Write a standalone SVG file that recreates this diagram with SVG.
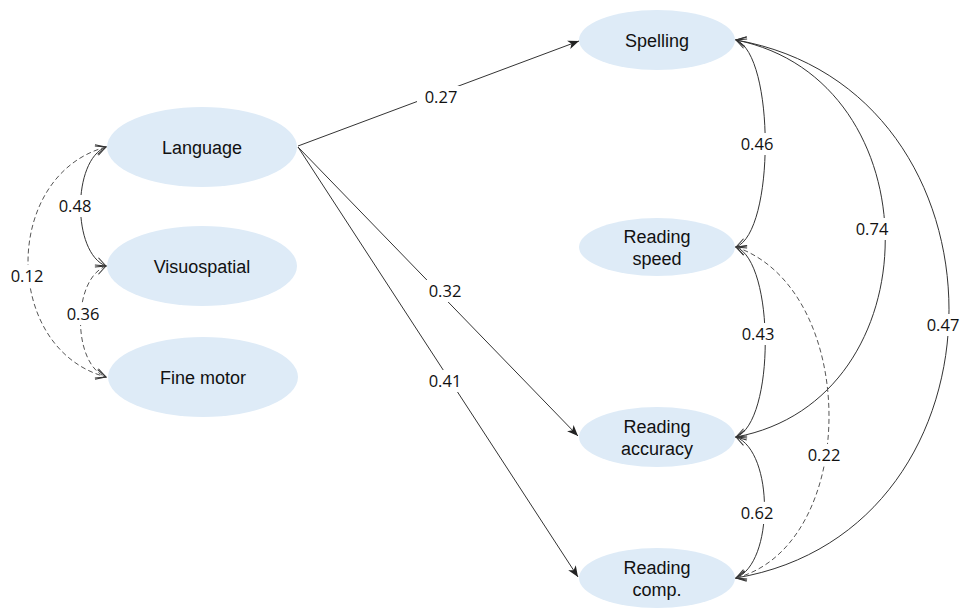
<svg xmlns="http://www.w3.org/2000/svg" width="965" height="608" viewBox="0 0 965 608">
<defs>
<style>
.node{fill:#deebf7;}
.nt{font-family:"Liberation Sans",Arial,sans-serif;font-size:18px;fill:#111;text-anchor:middle;}
.lbl{font-family:"Open Sans","Liberation Sans",sans-serif;font-size:16.5px;fill:#111;text-anchor:middle;}
.c{fill:none;stroke:#333;stroke-width:1;}
.d{stroke-dasharray:5,3;stroke:#555;}
.bg{fill:#fff;}
</style>
<marker id="ah" viewBox="0 0 12 10" refX="11" refY="5" markerWidth="12" markerHeight="10" markerUnits="userSpaceOnUse" orient="auto">
<path d="M0,0.5 L11,5 L0,9.5 L3,5 z" fill="#222"/>
</marker>
<marker id="ov" viewBox="0 0 12 12" refX="11" refY="6" markerWidth="12" markerHeight="12" markerUnits="userSpaceOnUse" orient="auto-start-reverse">
<path d="M1,1 L11,6 L1,11" fill="none" stroke="#333" stroke-width="1"/>
</marker>
</defs>
<rect width="965" height="608" fill="#fff"/>

<g id="connectors">
<line class="c" x1="298" y1="146" x2="579" y2="41" marker-end="url(#ah)"/>
<line class="c" x1="298" y1="147" x2="578" y2="436" marker-end="url(#ah)"/>
<line class="c" x1="298" y1="147" x2="578" y2="577" marker-end="url(#ah)"/>
<path class="c" d="M106,147 C72,160 72,253 106,266" marker-start="url(#ov)" marker-end="url(#ov)"/>
<path class="c d" d="M106,266 C72,279 72,364 106,377" marker-start="url(#ov)" marker-end="url(#ov)"/>
<path class="c d" d="M106,147 C2,175 2,349 106,377" marker-start="url(#ov)" marker-end="url(#ov)"/>
<path class="c" d="M736,40 C775,55 775,232 736,247" marker-start="url(#ov)" marker-end="url(#ov)"/>
<path class="c" d="M736,247 C775,262 775,422 736,437" marker-start="url(#ov)" marker-end="url(#ov)"/>
<path class="c" d="M736,437 C774,452 774,563 736,578" marker-start="url(#ov)" marker-end="url(#ov)"/>
<path class="c" d="M736,40 C935,80 935,400 736,437" marker-start="url(#ov)" marker-end="url(#ov)"/>
<path class="c" d="M736,40 C1020,90 1020,530 736,578" marker-start="url(#ov)" marker-end="url(#ov)"/>
<path class="c d" d="M736,247 C860,290 860,545 736,578" marker-start="url(#ov)" marker-end="url(#ov)"/>
<g id="labels">
<rect class="bg" x="417" y="86" width="48" height="22"/><text class="lbl" x="441" y="103">0.27</text>
<rect class="bg" x="421" y="280" width="48" height="22"/><text class="lbl" x="445" y="297">0.32</text>
<rect class="bg" x="421" y="370" width="48" height="22"/><text class="lbl" x="445" y="387">0.41</text>
<rect class="bg" x="56" y="195" width="40" height="22"/><text class="lbl" x="75" y="212">0.48</text>
<rect class="bg" x="63" y="303" width="40" height="22"/><text class="lbl" x="83" y="320">0.36</text>
<rect class="bg" x="7" y="265" width="40" height="22"/><text class="lbl" x="27" y="282">0.12</text>
<rect class="bg" x="737" y="133" width="40" height="22"/><text class="lbl" x="757" y="150">0.46</text>
<rect class="bg" x="738" y="323" width="40" height="22"/><text class="lbl" x="758" y="340">0.43</text>
<rect class="bg" x="737" y="502" width="40" height="22"/><text class="lbl" x="757" y="519">0.62</text>
<rect class="bg" x="852" y="218" width="40" height="22"/><text class="lbl" x="872" y="235">0.74</text>
<rect class="bg" x="923" y="314" width="40" height="22"/><text class="lbl" x="943" y="331">0.47</text>
<rect class="bg" x="804" y="444" width="40" height="22"/><text class="lbl" x="824" y="461">0.22</text>
</g>
</g>

<g id="language"><ellipse class="node" cx="202" cy="147" rx="95" ry="40"/><text class="nt" x="202" y="154">Language</text></g>
<g id="visuospatial"><ellipse class="node" cx="202" cy="266" rx="95" ry="40"/><text class="nt" x="202" y="273">Visuospatial</text></g>
<g id="finemotor"><ellipse class="node" cx="203" cy="377" rx="95" ry="40"/><text class="nt" x="203" y="384">Fine motor</text></g>
<g id="spelling"><ellipse class="node" cx="657" cy="40" rx="78" ry="30"/><text class="nt" x="657" y="47">Spelling</text></g>
<g id="readingspeed"><ellipse class="node" cx="657" cy="247" rx="78" ry="29"/><text class="nt" x="657" y="243">Reading</text><text class="nt" x="657" y="265">speed</text></g>
<g id="readingaccuracy"><ellipse class="node" cx="657" cy="437" rx="78" ry="30"/><text class="nt" x="657" y="433">Reading</text><text class="nt" x="657" y="455">accuracy</text></g>
<g id="readingcomp"><ellipse class="node" cx="657" cy="578" rx="78" ry="30"/><text class="nt" x="657" y="574">Reading</text><text class="nt" x="657" y="596">comp.</text></g>
</svg>
